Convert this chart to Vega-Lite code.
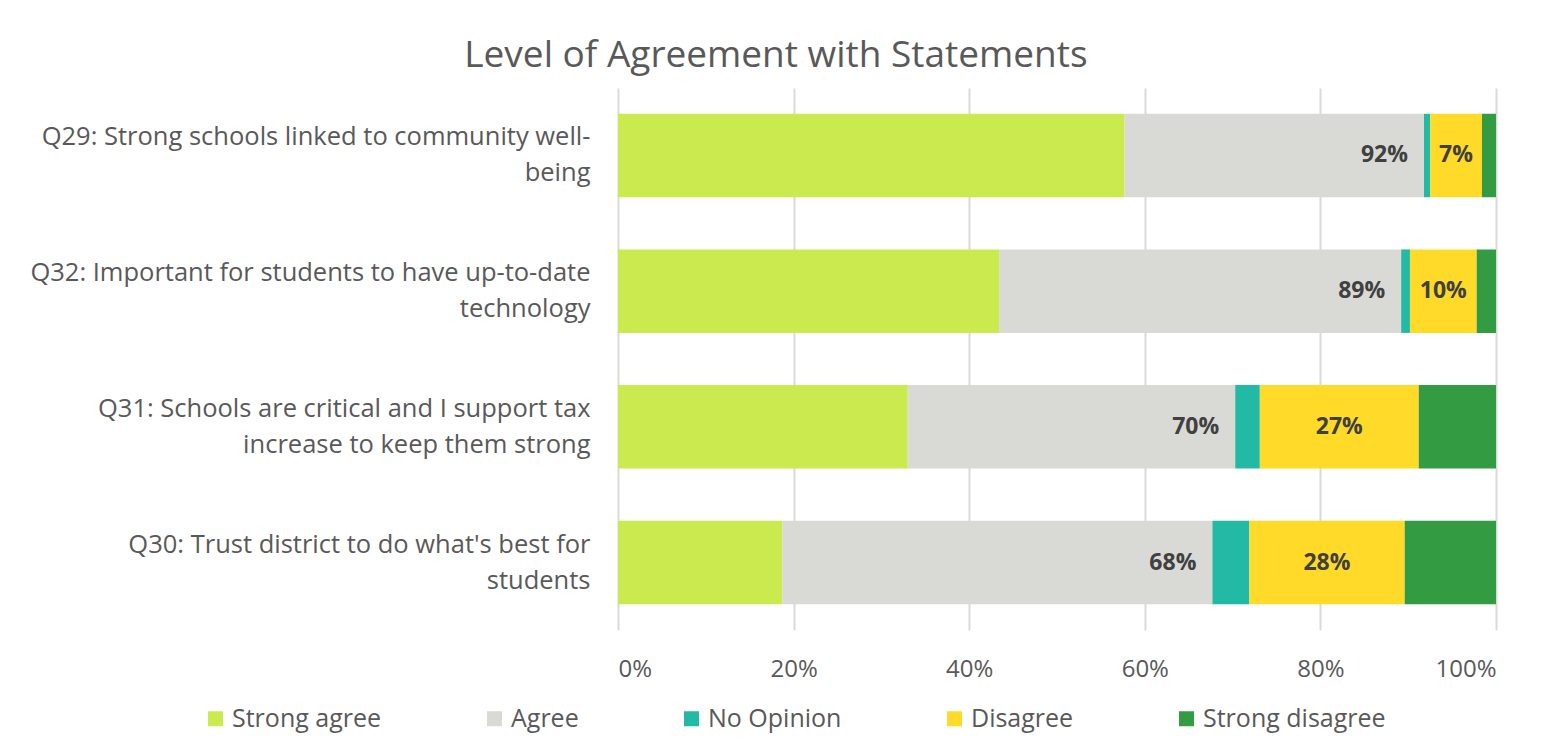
{
  "$schema": "https://vega.github.io/schema/vega-lite/v6.json",
  "autosize": {"type": "none"},
  "padding": {"left": 618, "top": 88, "right": 45, "bottom": 118},
  "width": 878,
  "height": 542,
  "background": "white",
  "title": {
    "text": "Level of Agreement with Statements",
    "font": "Open Sans",
    "fontSize": 37,
    "fontWeight": "normal",
    "color": "#595959",
    "anchor": "middle",
    "frame": "bounds",
    "offset": 13,
    "dx": 13
  },
  "config": {
    "view": {"stroke": null},
    "font": "Open Sans"
  },
  "data": {
    "values": [
      {"question": "Q29: Strong schools linked to community well-\nbeing", "category": "Strong agree", "order": 1, "value": 0.577},
      {"question": "Q29: Strong schools linked to community well-\nbeing", "category": "Agree", "order": 2, "value": 0.341, "label": "92%"},
      {"question": "Q29: Strong schools linked to community well-\nbeing", "category": "No Opinion", "order": 3, "value": 0.007},
      {"question": "Q29: Strong schools linked to community well-\nbeing", "category": "Disagree", "order": 4, "value": 0.059, "label": "7%"},
      {"question": "Q29: Strong schools linked to community well-\nbeing", "category": "Strong disagree", "order": 5, "value": 0.016},
      {"question": "Q32: Important for students to have up-to-date\ntechnology", "category": "Strong agree", "order": 1, "value": 0.434},
      {"question": "Q32: Important for students to have up-to-date\ntechnology", "category": "Agree", "order": 2, "value": 0.458, "label": "89%"},
      {"question": "Q32: Important for students to have up-to-date\ntechnology", "category": "No Opinion", "order": 3, "value": 0.010},
      {"question": "Q32: Important for students to have up-to-date\ntechnology", "category": "Disagree", "order": 4, "value": 0.076, "label": "10%"},
      {"question": "Q32: Important for students to have up-to-date\ntechnology", "category": "Strong disagree", "order": 5, "value": 0.022},
      {"question": "Q31: Schools are critical and I support tax\nincrease to keep them strong", "category": "Strong agree", "order": 1, "value": 0.330},
      {"question": "Q31: Schools are critical and I support tax\nincrease to keep them strong", "category": "Agree", "order": 2, "value": 0.373, "label": "70%"},
      {"question": "Q31: Schools are critical and I support tax\nincrease to keep them strong", "category": "No Opinion", "order": 3, "value": 0.028},
      {"question": "Q31: Schools are critical and I support tax\nincrease to keep them strong", "category": "Disagree", "order": 4, "value": 0.181, "label": "27%"},
      {"question": "Q31: Schools are critical and I support tax\nincrease to keep them strong", "category": "Strong disagree", "order": 5, "value": 0.088},
      {"question": "Q30: Trust district to do what's best for\nstudents", "category": "Strong agree", "order": 1, "value": 0.187},
      {"question": "Q30: Trust district to do what's best for\nstudents", "category": "Agree", "order": 2, "value": 0.490, "label": "68%"},
      {"question": "Q30: Trust district to do what's best for\nstudents", "category": "No Opinion", "order": 3, "value": 0.042},
      {"question": "Q30: Trust district to do what's best for\nstudents", "category": "Disagree", "order": 4, "value": 0.177, "label": "28%"},
      {"question": "Q30: Trust district to do what's best for\nstudents", "category": "Strong disagree", "order": 5, "value": 0.104}
    ]
  },
  "transform": [
    {"stack": "value", "groupby": ["question"], "sort": [{"field": "order", "order": "ascending"}], "as": ["v0", "v1"]}
  ],
  "encoding": {
    "y": {
      "field": "question",
      "type": "nominal",
      "sort": null,
      "scale": {"paddingInner": 0.385, "paddingOuter": 0.19},
      "axis": {
        "title": null,
        "domain": false,
        "ticks": false,
        "labelExpr": "split(datum.label, '\\n')",
        "labelFont": "Open Sans",
        "labelFontSize": 25.5,
        "labelColor": "#595959",
        "labelPadding": 28,
        "labelLimit": 700,
        "labelLineHeight": 36,
        "labelOffset": -18,
        "labelAlign": "right",
        "labelBaseline": "middle"
      }
    }
  },
  "layer": [
    {
      "mark": {"type": "bar"},
      "encoding": {
        "x": {
          "field": "v0",
          "type": "quantitative",
          "scale": {"domain": [0, 1], "nice": false},
          "axis": {
            "title": null,
            "format": ".0%",
            "values": [0, 0.2, 0.4, 0.6, 0.8, 1],
            "domain": false,
            "ticks": false,
            "grid": true,
            "gridColor": "#d9d9d9",
            "gridWidth": 2,
            "labelFont": "Open Sans",
            "labelFontSize": 24,
            "labelColor": "#595959",
            "labelPadding": 27
          }
        },
        "x2": {"field": "v1"},
        "color": {
          "field": "category",
          "type": "nominal",
          "scale": {
            "domain": ["Strong agree", "Agree", "No Opinion", "Disagree", "Strong disagree"],
            "range": ["#cbea4f", "#d9d9d5", "#22b9a5", "#ffda29", "#339c43"]
          },
          "legend": {
            "title": null,
            "orient": "none",
            "direction": "horizontal",
            "legendX": -415,
            "legendY": 618,
            "symbolType": "square",
            "symbolSize": 225,
            "symbolStrokeWidth": 0,
            "labelFont": "Open Sans",
            "labelFontSize": 25,
            "labelColor": "#595959",
            "labelOffset": 4,
            "columnPadding": 100,
            "labelLimit": 400
          }
        }
      }
    },
    {
      "transform": [{"filter": "datum.category == 'Agree'"}],
      "mark": {"type": "text", "align": "right", "baseline": "middle", "dx": -16, "fontWeight": "bold", "fontSize": 23, "color": "#404040", "font": "Open Sans"},
      "encoding": {
        "x": {"field": "v1", "type": "quantitative"},
        "text": {"field": "label"}
      }
    },
    {
      "transform": [
        {"filter": "datum.category == 'Disagree'"},
        {"fold": ["v0", "v1"], "as": ["edge", "pos"]},
        {"aggregate": [{"op": "mean", "field": "pos", "as": "mid"}], "groupby": ["question", "label"]}
      ],
      "mark": {"type": "text", "align": "center", "baseline": "middle", "fontWeight": "bold", "fontSize": 23, "color": "#404040", "font": "Open Sans"},
      "encoding": {
        "x": {"field": "mid", "type": "quantitative"},
        "text": {"field": "label"}
      }
    }
  ]
}
